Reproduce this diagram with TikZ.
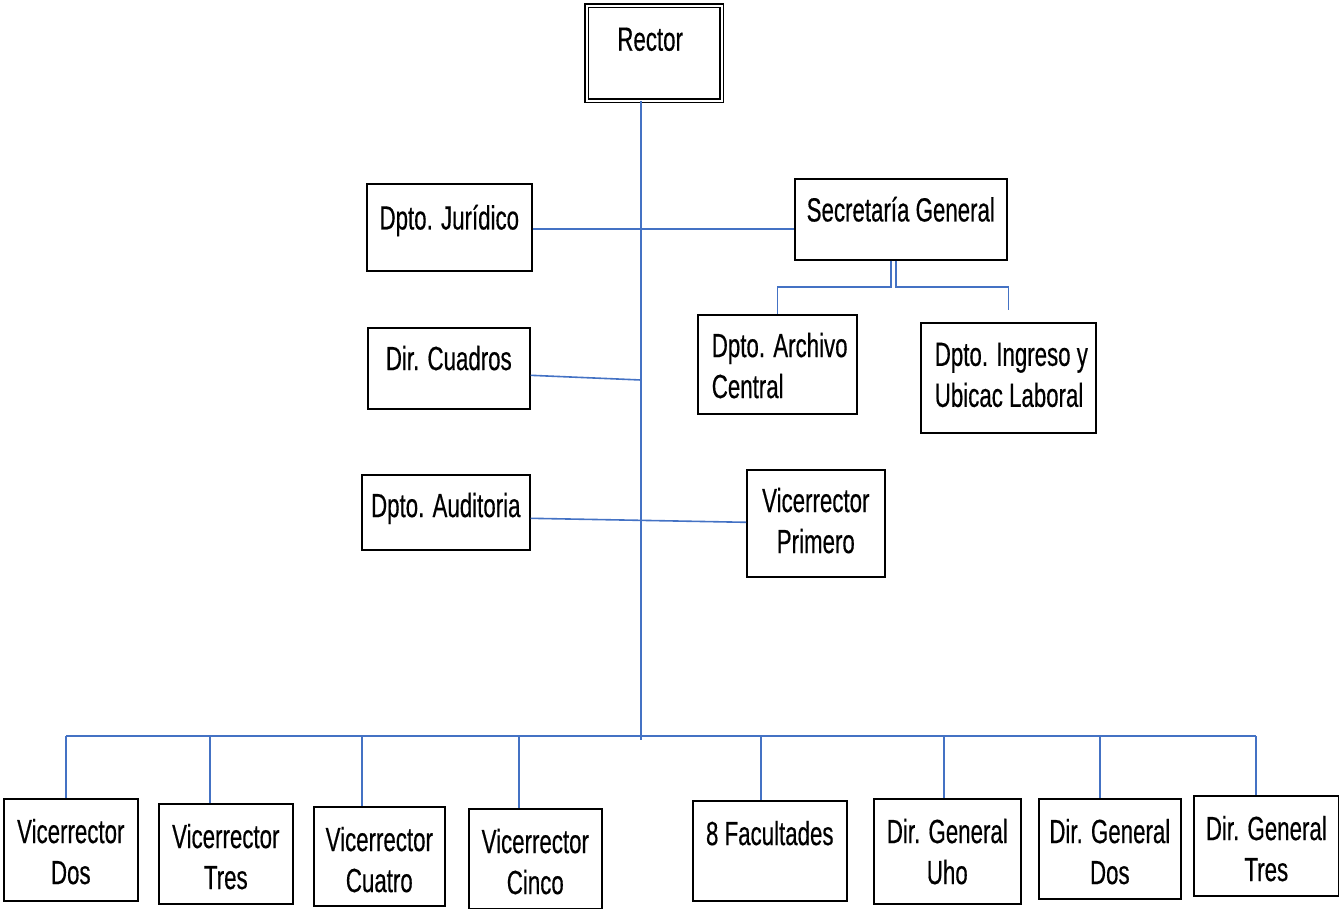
\documentclass[tikz,border=0pt]{standalone}
\usepackage{fontspec}
\setmainfont{Liberation Sans}[FakeStretch=0.665,FakeBold=0.4]
\usetikzlibrary{calc,shadows}
\definecolor{linkblue}{RGB}{68,114,196}
\tikzset{
  box/.style={draw=black, line width=1.6pt, fill=white,
    drop shadow={shadow xshift=1.2pt, shadow yshift=-1.2pt, opacity=0.35}},
  rectorbox/.style={draw=black, double=white, double distance=2.2pt, line width=1.3pt, fill=white},
  link/.style={draw=linkblue, line width=1.6pt},
  every node/.style={font=\fontsize{33.5}{41}\selectfont}
}
% #1 options, #2 name, #3 x, #4 y, #5 width, #6 height, #7 top pad, #8 text
\newcommand\obox[8]{%
  \node[#1, anchor=north west, inner sep=0pt] (#2) at (#3,#4)
    {\parbox[c][#6pt][t]{#5pt}{\vspace*{#7pt}#8}};}
\newcommand\ctr{\centering}
\newcommand\lft{\raggedright\leftskip=14pt }
\begin{document}
\begin{tikzpicture}[x=1pt,y=-1pt]
\useasboundingbox (0,0) rectangle (1339,908);
% top
\obox{rectorbox}{rec}{586}{5}{135}{95}{22}{\hspace*{-8pt}\ctr Rector}
\obox{box}{jur}{366}{183}{165}{87}{21}{\ctr Dpto. Jurídico}
\obox{box}{sec}{794}{178}{212}{81}{18}{\ctr Secretaría General}
\obox{box}{arc}{697}{314}{159}{99}{18}{\lft Dpto. Archivo\\Central}
\obox{box}{ing}{920}{322}{175}{110}{20}{\lft Dpto. Ingreso y\\Ubicac Laboral}
\obox{box}{cua}{367}{327}{162}{81}{18}{\ctr Dir. Cuadros}
\obox{box}{aud}{361}{474}{168}{75}{18}{\ctr Dpto. Auditoria}
\obox{box}{vp}{746}{469}{138}{107}{18}{\ctr Vicerrector\\Primero}
% bottom row
\obox{box}{vd}{3}{798}{134}{102}{20}{\ctr Vicerrector\\Dos}
\obox{box}{vt}{158}{803}{134}{100}{20}{\ctr Vicerrector\\Tres}
\obox{box}{vc}{313}{806}{131}{99}{20}{\ctr Vicerrector\\Cuatro}
\obox{box}{vci}{468}{808}{133}{100}{20}{\ctr Vicerrector\\Cinco}
\obox{box}{fac}{692}{800}{154}{100}{20}{\ctr 8 Facultades}
\obox{box}{dgu}{873}{798}{147}{105}{20}{\ctr Dir. General\\Uho}
\obox{box}{dgd}{1038}{798}{142}{100}{20}{\ctr Dir. General\\Dos}
\obox{box}{dgt}{1193}{795}{145}{100}{20}{\ctr Dir. General\\Tres}
% coordinates
\coordinate (bus) at (641,736);
\coordinate (trunkend) at (641,740);
\coordinate (sj) at (0,287);
\coordinate (cj) at (641,380);
\coordinate (dA) at (66,736);
\coordinate (dB) at (210,736);
\coordinate (dC) at (362,736);
\coordinate (dD) at (519,736);
\coordinate (dE) at (761,736);
\coordinate (dF) at (944,736);
\coordinate (dG) at (1100,736);
\coordinate (dH) at (1256,736);
% trunk
\draw[link] (rec.south -| bus) -- (trunkend);
% side links
\draw[link] ([yshift=-1.5pt]jur.east) -- ([yshift=-1.5pt]jur.east -| sec.west);
\draw[link] ([yshift=-7pt]cua.east) -- (cj);
\draw[link] ([yshift=-6pt]aud.east) -- ([yshift=1pt]vp.west);
% secretaria children
\draw[link] ([xshift=-10pt]sec.south) |- (arc.north |- sj) -- (arc.north);
\draw[link] ([xshift=-5pt]sec.south) |- (ing.north |- sj) -- ([yshift=12pt]ing.north);
% bus
\draw[link] (dA) -- (dH);
\foreach \d/\n in {dA/vd, dB/vt, dC/vc, dD/vci, dE/fac, dF/dgu, dG/dgd, dH/dgt}
  \draw[link] (\d) -- (\n.north -| \d);
\end{tikzpicture}
\end{document}
